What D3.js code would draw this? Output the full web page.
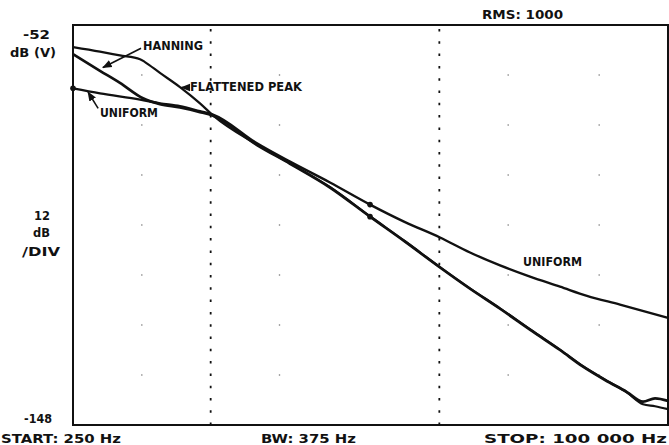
<!DOCTYPE html>
<html>
<head>
<meta charset="utf-8">
<script src="https://cdn.jsdelivr.net/npm/d3@7"></script>
<style>
  body { margin: 0; background: #fff; }
  svg { display: block; }
  text { font-family: "DejaVu Sans", sans-serif; font-weight: bold; fill: #111; }
</style>
</head>
<body>
<svg></svg>
<script>
// Data (frequency in Hz, level in dB(V))
const uniformFreq = [250, 328, 491, 600, 734, 898, 1024, 1594, 2223, 3325, 4975, 7078, 10068, 13620, 18428, 24920, 33700, 44220, 61670, 100000];
const uniformDb   = [-67.2, -68.4, -69.9, -70.8, -71.5, -72.7, -73.5, -80.4, -84.8, -89.8, -95.1, -99.3, -103.0, -106.6, -109.7, -112.4, -114.8, -117.0, -119.1, -122.3];

const hanningFreq = [250, 328, 401, 506, 600, 734, 898, 1024, 1594, 2223, 3325, 4975, 7078, 10068, 13620, 18428, 25670, 33700, 42510, 53030, 66180, 77760, 87760, 100000];
const hanningDb   = [-59.0, -63.0, -65.9, -69.6, -71.0, -71.8, -72.9, -73.8, -80.8, -85.3, -91.0, -98.0, -104.0, -110.2, -115.3, -120.1, -125.6, -130.0, -134.0, -137.2, -140.1, -142.4, -141.6, -142.2];

const flatFreq = [250, 328, 401, 491, 516, 600, 734, 898, 1024, 1594, 2223, 3325, 4975, 7078, 10068, 13620, 18428, 25670, 33700, 42510, 53030, 66180, 77760, 87760, 100000];
const flatDb   = [-57.3, -58.4, -59.3, -60.2, -60.9, -63.5, -66.9, -70.8, -73.7, -80.7, -85.2, -90.9, -97.9, -103.9, -110.1, -115.2, -120.0, -125.5, -129.9, -133.9, -137.1, -140.2, -143.0, -143.5, -144.2];

const freqDomain = [250, 100000];
const dbDomain = [-148, -52];
const decadeLines = [1000, 10000];
const dotFreqs = [500, 2000, 20000, 50000];
const dotLevels = [-64, -76, -88, -100, -112, -124, -136];

// curve labels: text, anchor freq, dB, leader from [f,dB] to [f,dB]
const curveLabels = [
  {text: "HANNING", f: 506, db: -57.9, w: 60, from: [496, -57.6], to: [338, -62.2]},
  {text: "FLATTENED PEAK", f: 812, db: -67.9, w: 112, from: [812, -67.0], to: [745, -67.0]},
  {text: "UNIFORM", f: 328, db: -74.0, w: 58, from: [322, -72.0], to: [291, -68.1]},
  {text: "UNIFORM", f: 23220, db: -109.8, w: 59, from: null, to: null}
];
const markers = [[250, -67.2], [4975, -95.1], [4975, -98.0]];

const yTickLabels = ["-52", "-148"];
const unitLabel = "dB (V)";
const divLabels = ["12", "dB", "/DIV"];
const footer = ["START: 250 Hz", "BW: 375 Hz", "STOP: 100 000 Hz"];
const headerLabel = "RMS: 1000";

const svgWidth = 669, svgHeight = 445;
const margins = {top: 25, right: 1, bottom: 20, left: 73};

const x = d3.scaleLog()
  .domain(freqDomain)
  .range([margins.left, svgWidth - margins.right]);

const y = d3.scaleLinear()
  .domain(dbDomain)
  .range([svgHeight - margins.bottom, margins.top]);

const svg = d3.select("svg")
  .attr("width", svgWidth)
  .attr("height", svgHeight);

svg.append("rect").attr("width", svgWidth).attr("height", svgHeight).attr("fill", "#fff");

// grid specks
dotLevels.forEach(lv => {
  svg.append("g").selectAll("circle")
    .data(dotFreqs)
    .join("circle")
    .attr("cx", d => x(d))
    .attr("cy", y(lv))
    .attr("r", 0.8)
    .attr("fill", "#777");
});

// decade dotted lines
svg.append("g").selectAll("line")
  .data(decadeLines)
  .join("line")
  .attr("x1", d => x(d)).attr("x2", d => x(d))
  .attr("y1", y(dbDomain[1]) + 4).attr("y2", y(dbDomain[0]))
  .attr("stroke", "#111")
  .attr("stroke-width", 1.8)
  .attr("stroke-dasharray", "2.5,9.8");

// frame
svg.append("rect")
  .attr("x", x(freqDomain[0]))
  .attr("y", y(dbDomain[1]))
  .attr("width", x(freqDomain[1]) - x(freqDomain[0]))
  .attr("height", y(dbDomain[0]) - y(dbDomain[1]))
  .attr("fill", "none")
  .attr("stroke", "#111")
  .attr("stroke-width", 2);

const line = d3.line()
  .curve(d3.curveMonotoneX)
  .x(d => x(d[0]))
  .y(d => y(d[1]));

const series = [
  {f: uniformFreq, db: uniformDb, w: 2.4},
  {f: hanningFreq, db: hanningDb, w: 2.7},
  {f: flatFreq, db: flatDb, w: 2.2}
];

series.forEach(s => {
  svg.append("path")
    .datum(s.f.map((f, i) => [f, s.db[i]]))
    .attr("fill", "none")
    .attr("stroke", "#111")
    .attr("stroke-width", s.w)
    .attr("stroke-linejoin", "round")
    .attr("d", line);
});

svg.append("g").selectAll("circle")
  .data(markers)
  .join("circle")
  .attr("cx", d => x(d[0]))
  .attr("cy", d => y(d[1]))
  .attr("r", 2.8)
  .attr("fill", "#111");

// label leaders with arrowheads
svg.append("defs").append("marker")
  .attr("id", "arr")
  .attr("viewBox", "0 0 10 10")
  .attr("refX", 9).attr("refY", 5)
  .attr("markerWidth", 6).attr("markerHeight", 6)
  .attr("orient", "auto")
  .append("path")
  .attr("d", "M0,1L10,5L0,9Z")
  .attr("fill", "#111");

curveLabels.forEach(l => {
  svg.append("text")
    .attr("x", x(l.f))
    .attr("y", y(l.db))
    .attr("font-size", 12)
    .attr("font-weight", 900)
    .attr("textLength", l.w)
    .attr("lengthAdjust", "spacingAndGlyphs")
    .text(l.text);
  if (l.from) {
    svg.append("line")
      .attr("x1", x(l.from[0])).attr("y1", y(l.from[1]))
      .attr("x2", x(l.to[0])).attr("y2", y(l.to[1]))
      .attr("stroke", "#111")
      .attr("stroke-width", 1.6)
      .attr("marker-end", "url(#arr)");
  }
});

// left side texts
const leftText = (str, xs, ys, w) => svg.append("text")
  .attr("x", xs).attr("y", ys)
  .attr("font-size", 12)
  .attr("textLength", w)
  .attr("lengthAdjust", "spacingAndGlyphs")
  .text(str);

leftText(yTickLabels[0], 23, y(dbDomain[1]) + 14, 27);
leftText(unitLabel, 10, y(dbDomain[1]) + 32, 46);
leftText(divLabels[0], 34, 220, 16);
leftText(divLabels[1], 33, 237, 17);
leftText(divLabels[2], 22, 256, 38);
leftText(yTickLabels[1], 24, y(dbDomain[0]) - 2, 28);

leftText(footer[0], 1, 443, 120);
leftText(footer[1], 261, 443, 95);
leftText(footer[2], 484, 443, 183);
leftText(headerLabel, 482, 19, 81);
</script>
</body>
</html>
